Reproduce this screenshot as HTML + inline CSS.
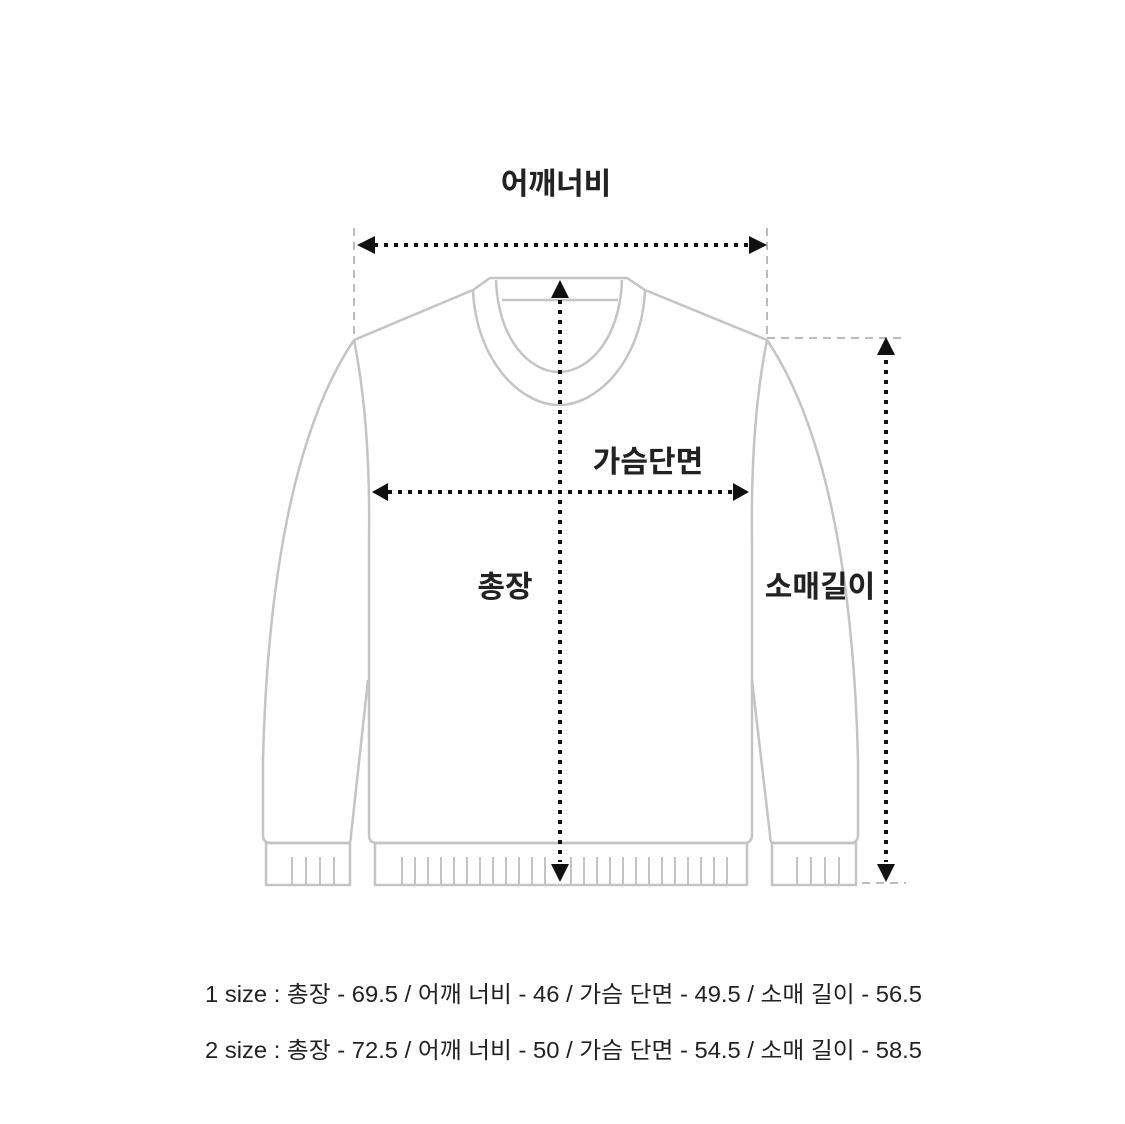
<!DOCTYPE html>
<html><head><meta charset="utf-8"><style>
html,body{margin:0;padding:0;background:#fff;}
svg{display:block}
text{font-family:"Liberation Sans","Noto Sans CJK KR",sans-serif;}
</style></head><body>
<svg width="1125" height="1124" viewBox="0 0 1125 1124" xmlns="http://www.w3.org/2000/svg">
<g fill="none" stroke="#c4c4c4" stroke-width="2.5" stroke-linejoin="round">
<path d="M354,340 L473,290 L490,278 L627,278 L645,290 L767,340"/>
<path d="M473,290 C476,360 520,405 559,405 C598,405 642,360 645,290"/>
<path d="M496,280 C498,340 530,372 559,372 C588,372 620,340 622,280"/>
<line x1="502" y1="300" x2="618" y2="300"/>
<path d="M354,340 C300,420 268,560 263,760 L263,835 Q263,843 271,843 L348,843 Q351,843 351,835 L368,680"/>
<path d="M354,340 C366,400 370,470 369,540 L369,835 Q369,843 377,843 L744,843 Q752,843 752,835 L752,540 C751,470 755,400 767,340"/>
<path d="M767,340 C821,420 853,560 858,760 L858,835 Q858,843 850,843 L773,843 Q770,843 770,835 L752,680"/>
<rect x="266" y="843" width="84" height="42"/>
<rect x="375" y="843" width="372" height="42"/>
<rect x="772" y="843" width="84" height="42"/>
<g stroke-width="2">
<line x1="292" y1="857" x2="292" y2="885"/><line x1="306" y1="857" x2="306" y2="885"/><line x1="320" y1="857" x2="320" y2="885"/><line x1="334" y1="857" x2="334" y2="885"/>
<line x1="797" y1="857" x2="797" y2="885"/><line x1="811" y1="857" x2="811" y2="885"/><line x1="825" y1="857" x2="825" y2="885"/><line x1="839" y1="857" x2="839" y2="885"/>
<path d="M402,857V885M415,857V885M428,857V885M441,857V885M454,857V885M467,857V885M480,857V885M493,857V885M506,857V885M519,857V885M532,857V885M545,857V885M571,857V885M584,857V885M597,857V885M610,857V885M623,857V885M636,857V885M649,857V885M662,857V885M675,857V885M688,857V885M701,857V885M714,857V885M727,857V885"/>
</g>
</g>
<g stroke="#bbb" stroke-width="2" stroke-dasharray="8,6" fill="none">
<line x1="354" y1="228" x2="354" y2="335"/>
<line x1="767" y1="228" x2="767" y2="335"/>
<line x1="767" y1="338" x2="906" y2="338"/>
<line x1="862" y1="883" x2="906" y2="883"/>
</g>
<g stroke="#111" stroke-width="4" stroke-dasharray="4,6" fill="none">
<line x1="374" y1="245" x2="750" y2="245"/>
<line x1="560" y1="300" x2="560" y2="862"/>
<line x1="388" y1="492" x2="732" y2="492"/>
<line x1="886" y1="360" x2="886" y2="862"/>
</g>
<g fill="#111">
<polygon points="357,245 375,236 375,254"/>
<polygon points="767,245 749,236 749,254"/>
<polygon points="560,280 551,298 569,298"/>
<polygon points="560,882 551,864 569,864"/>
<polygon points="372,492 388,483 388,501"/>
<polygon points="749,492 733,483 733,501"/>
<polygon points="886,337 877,355 895,355"/>
<polygon points="886,882 877,864 895,864"/>
</g>
<g fill="#222" font-weight="bold" font-size="30" text-anchor="middle">
<text x="556" y="194">어깨너비</text>
<text x="648" y="472">가슴단면</text>
<text x="505" y="597">총장</text>
<text x="820" y="597">소매길이</text>
</g>
<g fill="#222" font-size="23">
<text x="205" y="1002" textLength="717" lengthAdjust="spacingAndGlyphs">1 size :  총장 - 69.5 / 어깨 너비 - 46 / 가슴 단면 - 49.5 / 소매 길이 - 56.5</text>
<text x="205" y="1058" textLength="717" lengthAdjust="spacingAndGlyphs">2 size :  총장 - 72.5 / 어깨 너비 - 50 / 가슴 단면 - 54.5 / 소매 길이 - 58.5</text>
</g>
</svg>
</body></html>
